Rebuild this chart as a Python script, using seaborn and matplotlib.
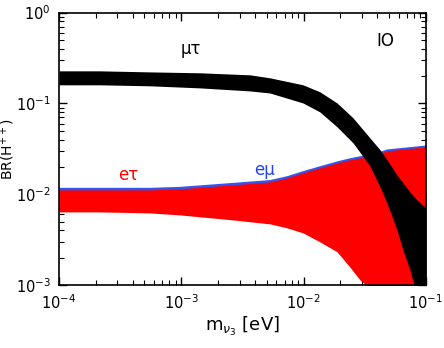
import pandas as pd
import seaborn as sns
import matplotlib.pyplot as plt

# ---------------------------
# Band edges
# ---------------------------

# mu-tau channel (black)
m_mutau = [1.0e-4, 2.16e-4, 5.55e-4, 1.42e-3, 3.65e-3, 5.31e-3, 9.89e-3, 1.36e-2, 1.88e-2,
           2.54e-2, 3.49e-2, 4.22e-2, 4.81e-2, 5.81e-2, 6.50e-2, 7.41e-2, 8.46e-2, 1.0e-1]
lo_mutau = [0.160, 0.160, 0.156, 0.148, 0.137, 0.130, 0.101, 0.0805, 0.0551,
            0.0367, 0.0205, 0.0120, 0.00802, 0.00405, 0.00244, 0.00147, 0.00078, 0.00036]
hi_mutau = [0.228, 0.228, 0.222, 0.217, 0.206, 0.191, 0.160, 0.134, 0.101,
            0.0692, 0.0417, 0.0308, 0.0239, 0.0163, 0.0133, 0.0106, 0.00865, 0.00706]

# e-tau channel (red)
m_etau = [1.0e-4, 2.16e-4, 5.55e-4, 9.76e-4, 2.65e-3, 5.31e-3, 7.31e-3, 9.89e-3,
          1.36e-2, 1.88e-2, 2.39e-2, 2.89e-2, 3.30e-2, 3.84e-2, 4.81e-2, 1.0e-1]
lo_etau = [0.00638, 0.00638, 0.00622, 0.00591, 0.00521, 0.00471, 0.00426, 0.00375,
           0.00299, 0.00232, 0.00158, 0.00114, 0.00098, 0.00069, 0.00032, 0.0001]
hi_etau = [0.01115, 0.01115, 0.01115, 0.01145, 0.01268, 0.01365, 0.0151, 0.0172,
           0.0195, 0.0221, 0.0239, 0.0251, 0.0258, 0.0271, 0.0300, 0.0332]

# e-mu channel (blue), mostly hidden under e-tau
m_emu = [1.0e-4, 2.16e-4, 5.55e-4, 9.76e-4, 2.65e-3, 5.31e-3, 7.31e-3, 9.89e-3,
         1.36e-2, 1.88e-2, 2.39e-2, 2.89e-2, 3.30e-2, 3.84e-2, 4.81e-2, 1.0e-1]
lo_emu = [0.0068, 0.0068, 0.0066, 0.0063, 0.0055, 0.0050, 0.0045, 0.0040,
          0.0032, 0.0025, 0.0017, 0.0012, 0.0010, 0.0007, 0.0003, 0.0001]
hi_emu = [0.0119, 0.0119, 0.0119, 0.0122, 0.0135, 0.0145, 0.0160, 0.0182,
          0.0206, 0.0233, 0.0252, 0.0265, 0.0272, 0.0285, 0.0315, 0.0348]

# ---------------------------
# Long-form table
# ---------------------------

rows = []
for name, ms, los, his in [("emu", m_emu, lo_emu, hi_emu),
                           ("etau", m_etau, lo_etau, hi_etau),
                           ("mutau", m_mutau, lo_mutau, hi_mutau)]:
    for m, lo, hi in zip(ms, los, his):
        rows.append({"channel": name, "m": m, "br": lo})
        rows.append({"channel": name, "m": m, "br": hi})
df = pd.DataFrame(rows)

colors = {"emu": "#3355ee", "etau": "#ff0000", "mutau": "#000000"}

# ---------------------------
# Plot
# ---------------------------

sns.set_style("ticks", {"axes.edgecolor": "black", "text.color": "black",
                        "xtick.color": "black", "ytick.color": "black",
                        "axes.labelcolor": "black"})
plt.rcParams["font.family"] = ["DejaVu Sans"]

fig = plt.figure(figsize=(4.44, 3.48), dpi=100)
ax = fig.add_axes([0.133, 0.181, 0.826, 0.783])
ax.set_xscale("log")
ax.set_yscale("log")

sns.lineplot(
    data=df, x="m", y="br",
    hue="channel", hue_order=["emu", "etau", "mutau"],
    palette=colors,
    estimator="mean",
    errorbar=lambda v: (v.min(), v.max()),
    err_kws={"alpha": 1, "linewidth": 0},
    linewidth=0,
    legend=False,
    ax=ax
)

ax.set_xlim(1e-4, 1e-1)
ax.set_ylim(1e-3, 1)

ax.tick_params(which="both", direction="in", top=True, right=True, labelsize=10.5)
ax.tick_params(which="major", length=6, width=1, pad=6)
ax.tick_params(which="minor", length=3.5, width=0.8)
for s in ax.spines.values():
    s.set_linewidth(1.2)

ax.set_xlabel(r"m$_{\nu_3}$ [eV]", fontsize=13, labelpad=2)
ax.set_ylabel(r"BR(H$^{++}$)", fontsize=10)
ax.yaxis.set_label_coords(-0.115, 0.5)

ax.text(1.2e-3, 0.40, "μτ", fontsize=12, ha="center", va="center")
ax.text(0.047, 0.49, "IO", fontsize=12, ha="center", va="center")
ax.text(3.7e-4, 0.0163, "eτ", fontsize=12, ha="center", va="center", color="red")
ax.text(4.8e-3, 0.0185, "eμ", fontsize=12, ha="center", va="center", color="#2244ee")

fig.savefig("out.png", dpi=100)
